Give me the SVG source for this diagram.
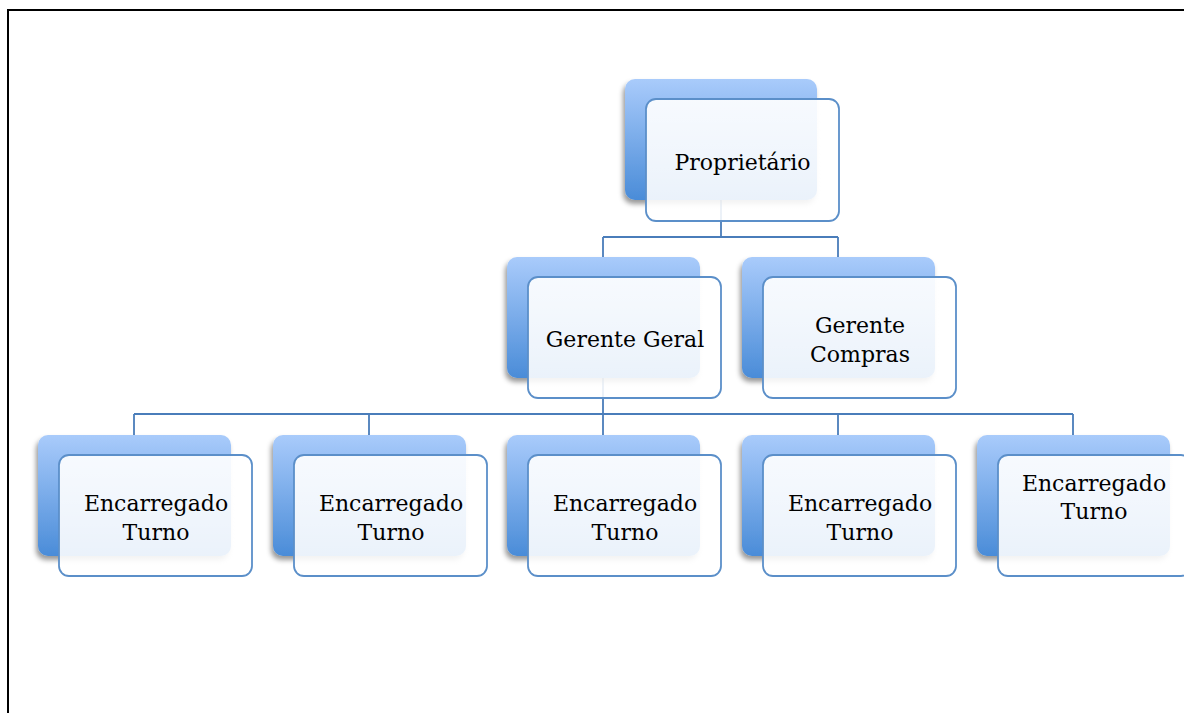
<svg xmlns="http://www.w3.org/2000/svg" width="1184" height="713" viewBox="0 0 1184 713">
<defs>
<linearGradient id="bg" x1="0" y1="0" x2="0" y2="1">
<stop offset="0" stop-color="#a9cbfb"/>
<stop offset="1" stop-color="#4a8cd8"/>
</linearGradient>
<linearGradient id="fg" x1="0" y1="0" x2="0" y2="1">
<stop offset="0" stop-color="#ffffff" stop-opacity="0.92"/>
<stop offset="1" stop-color="#ffffff" stop-opacity="0.88"/>
</linearGradient>
<filter id="sh" x="-20%" y="-20%" width="140%" height="140%">
<feDropShadow dx="-2" dy="4" stdDeviation="2.5" flood-color="#000" flood-opacity="0.4"/>
</filter>
</defs>
<style>
.back{fill:url(#bg);filter:url(#sh)}
.front{fill:url(#fg);stroke:#5b8fc9;stroke-width:1.8}
.lbl{font-family:"DejaVu Serif","Liberation Serif",serif;font-size:22px;fill:#000;text-anchor:middle}
.con{fill:none;stroke:#4a7dba;stroke-width:1.8}
.frame{fill:none;stroke:#000;stroke-width:2}
</style>
<rect width="1184" height="713" fill="#fff"/>
<path class="frame" d="M8,713 V10 H1184"/>
<g id="connectors">
<path class="con" d="M721,200 V237 M603,237 H838 M603,237 V257 M838,237 V257"/>
<path class="con" d="M603,378 V414 M134,414 H1073 M134,414 V435 M369,414 V435 M603,414 V435 M838,414 V435 M1073,414 V435"/>
</g>
<g id="proprietario">
<rect class="back" x="625" y="79" width="192" height="121" rx="10"/>
<rect class="front" x="646" y="99" width="193" height="122" rx="10"/>
<text class="lbl" x="742.5" y="170">Proprietário</text>
</g>
<g id="gerente-geral">
<rect class="back" x="507" y="257" width="193" height="121" rx="10"/>
<rect class="front" x="528" y="277" width="193" height="121" rx="10"/>
<text class="lbl" x="625" y="347">Gerente Geral</text>
</g>
<g id="gerente-compras">
<rect class="back" x="742" y="257" width="193" height="121" rx="10"/>
<rect class="front" x="763" y="277" width="193" height="121" rx="10"/>
<text class="lbl" x="860" y="333">Gerente</text>
<text class="lbl" x="860" y="362">Compras</text>
</g>
<g id="encarregado-1">
<rect class="back" x="38" y="435" width="193" height="121" rx="10"/>
<rect class="front" x="59" y="455" width="193" height="121" rx="10"/>
<text class="lbl" x="156" y="511">Encarregado</text>
<text class="lbl" x="156" y="540">Turno</text>
</g>
<g id="encarregado-2">
<rect class="back" x="273" y="435" width="193" height="121" rx="10"/>
<rect class="front" x="294" y="455" width="193" height="121" rx="10"/>
<text class="lbl" x="391" y="511">Encarregado</text>
<text class="lbl" x="391" y="540">Turno</text>
</g>
<g id="encarregado-3">
<rect class="back" x="507" y="435" width="193" height="121" rx="10"/>
<rect class="front" x="528" y="455" width="193" height="121" rx="10"/>
<text class="lbl" x="625" y="511">Encarregado</text>
<text class="lbl" x="625" y="540">Turno</text>
</g>
<g id="encarregado-4">
<rect class="back" x="742" y="435" width="193" height="121" rx="10"/>
<rect class="front" x="763" y="455" width="193" height="121" rx="10"/>
<text class="lbl" x="860" y="511">Encarregado</text>
<text class="lbl" x="860" y="540">Turno</text>
</g>
<g id="encarregado-5">
<rect class="back" x="977" y="435" width="193" height="121" rx="10"/>
<rect class="front" x="998" y="455" width="193" height="121" rx="10"/>
<text class="lbl" x="1094" y="491">Encarregado</text>
<text class="lbl" x="1094" y="519">Turno</text>
</g>
</svg>
